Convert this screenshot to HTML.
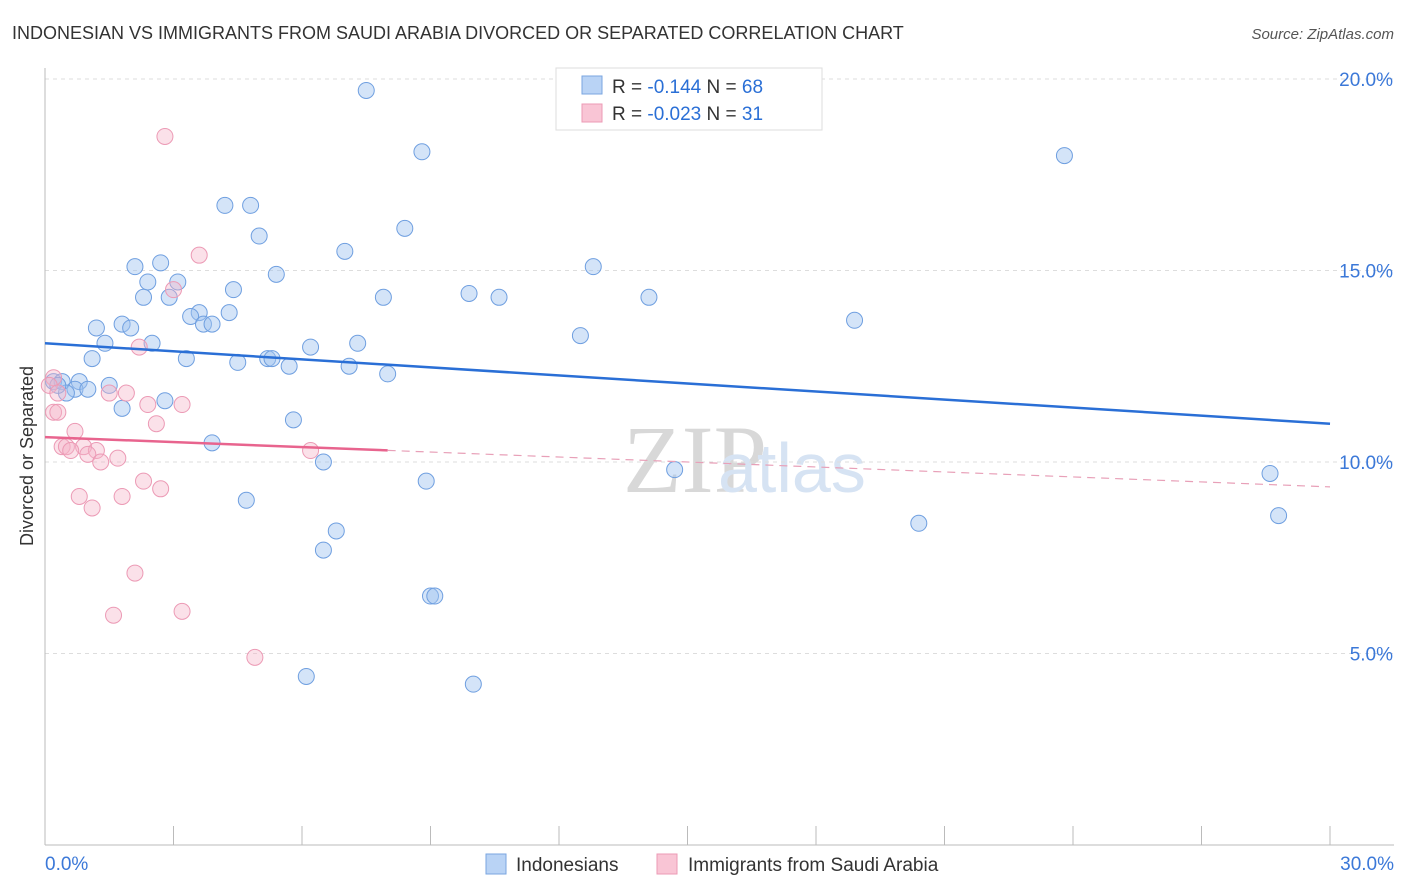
<!DOCTYPE html>
<html><head><meta charset="utf-8"><style>
body{margin:0;background:#fff;font-family:"Liberation Sans",sans-serif;}
svg{display:block}
</style></head><body>
<svg id="c" width="1406" height="892">
<text x="12" y="39" font-size="18" fill="#333">INDONESIAN VS IMMIGRANTS FROM SAUDI ARABIA DIVORCED OR SEPARATED CORRELATION CHART</text>
<text x="1394" y="39" font-size="15" fill="#555" font-style="italic" text-anchor="end">Source: ZipAtlas.com</text>
<text x="623" y="492" font-size="96" fill="#d8d8d8" font-family="Liberation Serif,serif">ZIP</text>
<text x="718" y="492" font-size="70" fill="#d6e3f3">atlas</text>
<text transform="translate(33,456) rotate(-90)" font-size="18" fill="#333" text-anchor="middle">Divorced or Separated</text>
<g id="grid"></g><g id="pts"></g><g id="lines"></g>
<g>
<rect x="556" y="68" width="266" height="62" fill="#fff" stroke="#ddd"/>
<rect x="582" y="76" width="20" height="18" fill="#b9d3f5" stroke="#7aa6e0"/>
<rect x="582" y="104" width="20" height="18" fill="#f9c5d5" stroke="#ec9ab5"/>
<text x="612" y="93" font-size="19" fill="#333">R = <tspan fill="#2a6fd6">-0.144</tspan>   N = <tspan fill="#2a6fd6">68</tspan></text>
<text x="612" y="120" font-size="19" fill="#333">R = <tspan fill="#2a6fd6">-0.023</tspan>   N = <tspan fill="#2a6fd6"> 31</tspan></text>
</g>
<g>
<rect x="486" y="854" width="20" height="20" fill="#b9d3f5" stroke="#7aa6e0"/>
<text x="516" y="871" font-size="19" fill="#333">Indonesians</text>
<rect x="657" y="854" width="20" height="20" fill="#f9c5d5" stroke="#ec9ab5"/>
<text x="688" y="871" font-size="19" fill="#333">Immigrants from Saudi Arabia</text>
</g>
</svg>
<script>
const yTicks=[5,10,15,20];
const xTickLabels=["0.0%","30.0%"];
const blueX=[7.5,8.8,23.8,4.2,4.8,5.0,8.4,7.0,2.1,2.7,5.4,12.8,2.4,3.1,2.3,2.9,4.4,7.9,9.9,10.6,14.1,3.6,3.4,4.3,3.7,3.9,1.8,1.2,2.0,18.9,12.5,1.4,2.5,6.2,7.3,1.1,3.3,4.5,5.2,5.3,5.7,7.1,8.0,0.2,0.4,0.8,1.5,0.7,1.0,0.5,2.8,1.8,5.8,3.9,6.5,14.7,28.6,8.9,4.7,6.8,20.4,28.8,6.5,9.0,9.1,6.1,10.0,0.3];
const blueY=[19.7,18.1,18.0,16.7,16.7,15.9,16.1,15.5,15.1,15.2,14.9,15.1,14.7,14.7,14.3,14.3,14.5,14.3,14.4,14.3,14.3,13.9,13.8,13.9,13.6,13.6,13.6,13.5,13.5,13.7,13.3,13.1,13.1,13.0,13.1,12.7,12.7,12.6,12.7,12.7,12.5,12.5,12.3,12.1,12.1,12.1,12.0,11.9,11.9,11.8,11.6,11.4,11.1,10.5,10.0,9.8,9.7,9.5,9.0,8.2,8.4,8.6,7.7,6.5,6.5,4.4,4.2,12.0];
const pinkX=[2.8,3.6,3.0,2.2,0.2,0.1,0.3,1.5,1.9,0.2,0.3,2.4,3.2,2.6,0.7,0.4,0.5,0.9,1.2,0.6,1.0,1.7,1.3,6.2,2.3,2.7,0.8,1.1,1.8,2.1,1.6,3.2,4.9];
const pinkY=[18.5,15.4,14.5,13.0,12.2,12.0,11.8,11.8,11.8,11.3,11.3,11.5,11.5,11.0,10.8,10.4,10.4,10.4,10.3,10.3,10.2,10.1,10.0,10.3,9.5,9.3,9.1,8.8,9.1,7.1,6.0,6.1,4.9];
const blueFit=[13.1,11.0];
const pinkFit=[10.65,9.35];
const pinkSolidEnd=8.0;
const X0=45,X1=1330,Y0=845,YT=79;
const sx=v=>X0+(X1-X0)*v/30, sy=v=>Y0-(Y0-YT)*v/20;
const NS="http://www.w3.org/2000/svg";
function mk(p,t,a){const e=document.createElementNS(NS,t);for(const k in a)e.setAttribute(k,a[k]);p.appendChild(e);return e;}
const g=document.getElementById('grid');
yTicks.forEach(t=>{
 const l=mk(g,'line',{x1:X0,x2:1394,y1:sy(t),y2:sy(t),stroke:'#ddd','stroke-dasharray':'4,4'});
 
 
 const tx=mk(g,'text',{x:1393,y:sy(t)+7,'font-size':19,fill:'#3b78d8','text-anchor':'end'});
 tx.textContent=t.toFixed(1)+'%';
 
 
});
mk(g,'line',{x1:X0,x2:X0,y1:68,y2:Y0,stroke:'#bbb'});
mk(g,'line',{x1:X0,x2:1394,y1:Y0,y2:Y0,stroke:'#bbb'});
for(let i=0;i<=10;i++){const l=mk(g,'line',{x1:sx(i*3),x2:sx(i*3),y1:826,y2:Y0,stroke:'#bbb'});
 
 }
[[X0,'start',xTickLabels[0]],[1394,'end',xTickLabels[1]]].forEach(([x,a,s])=>{const t=mk(g,'text',{x:x,y:870,'font-size':19,fill:'#3b78d8','text-anchor':a});t.textContent=s;
 
 });
const P=document.getElementById('pts');
blueX.forEach((x,i)=>{const c=mk(P,'circle',{cx:sx(x),cy:sy(blueY[i]),r:8,fill:'rgba(160,195,240,0.45)',stroke:'#6f9fe0','stroke-width':1});
 
 });
pinkX.forEach((x,i)=>{const c=mk(P,'circle',{cx:sx(x),cy:sy(pinkY[i]),r:8,fill:'rgba(246,180,200,0.4)',stroke:'#ec9ab5','stroke-width':1});
 
 });
const L=document.getElementById('lines');
const bl=mk(L,'line',{x1:sx(0),y1:sy(blueFit[0]),x2:sx(30),y2:sy(blueFit[1]),stroke:'#2a6fd6','stroke-width':2.5});


const pf=v=>pinkFit[0]+(pinkFit[1]-pinkFit[0])*v/30;
const pl=mk(L,'line',{x1:sx(0),y1:sy(pf(0)),x2:sx(pinkSolidEnd),y2:sy(pf(pinkSolidEnd)),stroke:'#e8648e','stroke-width':2.5});


const pd=mk(L,'line',{x1:sx(pinkSolidEnd),y1:sy(pf(pinkSolidEnd)),x2:sx(30),y2:sy(pf(30)),stroke:'#e8a0b8','stroke-width':1.2,'stroke-dasharray':'8,6'});


</script>
</body></html>
